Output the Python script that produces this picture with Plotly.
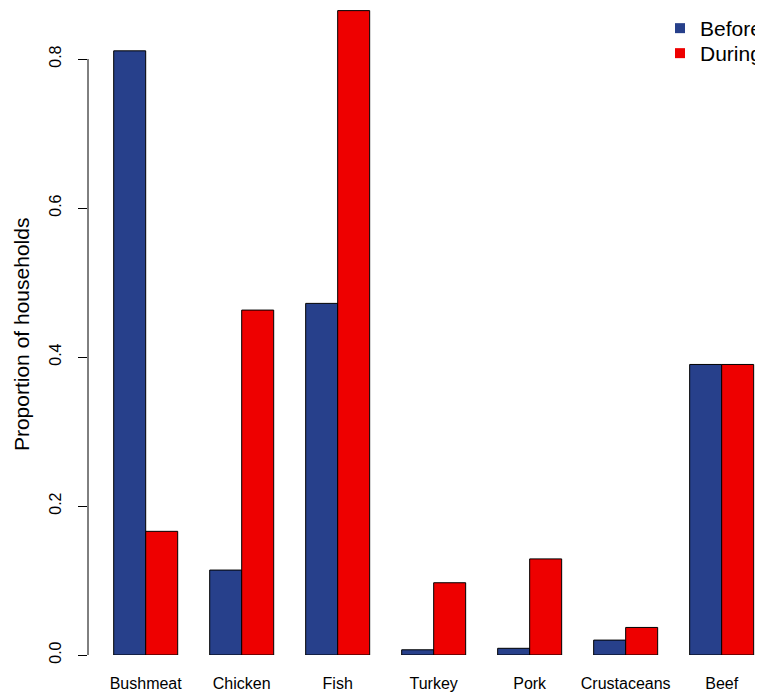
import plotly.graph_objects as go

categories = ["Bushmeat", "Chicken", "Fish", "Turkey", "Pork", "Crustaceans", "Beef"]
before = [0.811, 0.114, 0.472, 0.007, 0.009, 0.020, 0.390]
during = [0.166, 0.463, 0.865, 0.097, 0.129, 0.037, 0.390]
series_names = ["Before", "During"]
y_ticks = [0.0, 0.2, 0.4, 0.6, 0.8]
y_tick_text = ["0.0", "0.2", "0.4", "0.6", "0.8"]
y_title = "Proportion of households"

BLUE = "#27408B"
RED = "#EE0000"
FONT = "Liberation Sans, Arial, sans-serif"

fig = go.Figure()
for name, vals, col, leg in [(series_names[0], before, BLUE, "legend"),
                             (series_names[1], during, RED, "legend2")]:
    fig.add_trace(go.Bar(
        x=categories, y=vals, name=name, showlegend=False,
        marker=dict(color=col, line=dict(color="black", width=1)),
    ))
    # legend entry: plain filled square like R's legend(pch=15)
    fig.add_trace(go.Scatter(
        x=[None], y=[None], mode="markers", name=name, legend=leg,
        marker=dict(symbol="square", size=10, color=col),
    ))

leg_common = dict(x=0.8375, xanchor="left", yanchor="top",
                  font=dict(size=21, family=FONT), bgcolor="rgba(0,0,0,0)",
                  itemclick=False)

fig.update_layout(
    width=763, height=694,
    margin=dict(l=80, r=0, t=0, b=47, autoexpand=False),
    plot_bgcolor="white", paper_bgcolor="white",
    barmode="group", bargap=1/3, bargroupgap=0,
    font=dict(family=FONT, color="black", size=16),
    legend=dict(y=1.0, **leg_common),
    legend2=dict(y=1 - 25/647, **leg_common),
    xaxis=dict(
        type="category", range=[-0.601, 6.514], automargin=False,
        showline=False, showgrid=False, zeroline=False, ticks="",
        tickfont=dict(size=16), ticklabelstandoff=17,
    ),
    yaxis=dict(
        range=[0, 0.8685], automargin=False,
        showline=False, showgrid=False, zeroline=False,
        tickvals=y_ticks, ticktext=y_tick_text, tickangle=-90,
        ticks="outside", ticklen=9, tickwidth=1, tickcolor="black",
        tickfont=dict(size=16), ticklabelstandoff=11,
    ),
    annotations=[dict(text=y_title, textangle=-90, showarrow=False,
                      xref="paper", yref="paper", x=(13 - 80) / 683, y=0.496,
                      xanchor="center", yanchor="middle",
                      font=dict(size=21, family=FONT, color="black"))],
    shapes=[dict(type="line", xref="paper", yref="y", x0=0, x1=0,
                 y0=y_ticks[0], y1=y_ticks[-1], line=dict(color="black", width=1))],
)

fig.write_html("out.html")
